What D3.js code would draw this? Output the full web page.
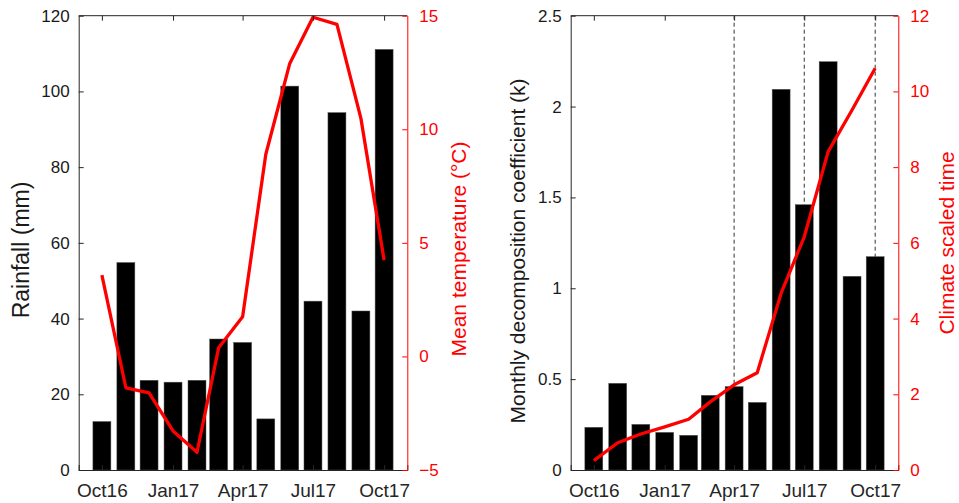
<!DOCTYPE html>
<html>
<head>
<meta charset="utf-8">
<script src="https://cdn.jsdelivr.net/npm/d3@7"></script>
<style>
body{margin:0;background:#fff;}
text{font-family:"Liberation Sans",Arial,sans-serif;}
</style>
</head>
<body>
<script>
// monthly data, Oct 2016 - Oct 2017
var months=["2016-10-01","2016-11-01","2016-12-01","2017-01-01","2017-02-01","2017-03-01","2017-04-01",
  "2017-05-01","2017-06-01","2017-07-01","2017-08-01","2017-09-01","2017-10-01"];
var rainfall=[12.8,54.8,23.7,23.2,23.7,34.6,33.7,13.5,101.4,44.6,94.4,42.0,111.1];
var meanTemp=[3.58,-1.38,-1.6,-3.28,-4.22,0.38,1.75,8.9,12.9,14.93,14.62,10.48,4.24];
var kCoef=[0.235,0.477,0.251,0.207,0.191,0.411,0.459,0.372,2.095,1.46,2.247,1.066,1.174];
var climTime=[0.246,0.72,0.95,1.14,1.34,1.80,2.25,2.57,4.67,6.16,8.41,9.51,10.61];
var tickDates=["2016-10-01","2017-01-01","2017-04-01","2017-07-01","2017-10-01"];
var dashDates=["2017-04-01","2017-07-01","2017-10-01"];

var parse=d3.timeParse("%Y-%m-%d");
var fmt=d3.timeFormat("%b%y");
var W=959,H=503;
var top_=15.7,bottom=470;

var svg=d3.select("body").append("svg").attr("width",W).attr("height",H);

function drawPanel(o){
  var g=svg.append("g");
  var x=d3.scaleTime().domain([parse("2016-09-01"),parse("2017-10-31")]).range([o.left,o.right]);
  var yL=d3.scaleLinear().domain(o.yLdom).range([bottom,top_]);
  var yR=d3.scaleLinear().domain(o.yRdom).range([bottom,top_]);
  var bw=0.75*(x(parse("2016-11-01"))-x(parse("2016-10-01")));

  // dashed lines
  g.selectAll(".dash").data(o.dashes||[]).enter().append("line")
    .attr("x1",d=>x(parse(d))).attr("x2",d=>x(parse(d)))
    .attr("y1",top_).attr("y2",bottom)
    .attr("stroke","#333").attr("stroke-width",1).attr("stroke-dasharray","4,3");

  // bars
  g.selectAll(".bar").data(o.bars).enter().append("rect")
    .attr("x",(d,i)=>x(parse(months[i]))-bw/2)
    .attr("y",d=>yL(d))
    .attr("width",bw)
    .attr("height",d=>bottom-yL(d))
    .attr("fill","#000").attr("stroke","#555").attr("stroke-width",0.5);

  // red line
  var line=d3.line().x((d,i)=>x(parse(months[i]))).y(d=>yR(d));
  g.append("path").datum(o.line).attr("d",line)
    .attr("fill","none").attr("stroke","#ff0000").attr("stroke-width",3.3)
    .attr("stroke-linejoin","round");

  // top border
  g.append("line").attr("x1",o.left).attr("x2",o.right).attr("y1",top_).attr("y2",top_)
    .attr("stroke","#262626").attr("stroke-width",1);

  // x axis
  var xAx=g.append("g").attr("transform","translate(0,"+bottom+")")
    .call(d3.axisBottom(x).tickValues(tickDates.map(parse)).tickFormat(fmt).tickSize(-5).tickPadding(14));
  xAx.select(".domain").attr("stroke","#262626");
  xAx.selectAll(".tick line").attr("stroke","#262626");
  xAx.selectAll("text").attr("font-size",19).attr("fill","#262626");
  var xTop=g.append("g").attr("transform","translate(0,"+top_+")")
    .call(d3.axisTop(x).tickValues(tickDates.map(parse)).tickFormat("").tickSize(-5));
  xTop.select(".domain").remove();
  xTop.selectAll(".tick line").attr("stroke","#262626");

  // left axis
  var lAx=g.append("g").attr("transform","translate("+o.left+",0)")
    .call(d3.axisLeft(yL).tickValues(o.yLticks).tickFormat(d3.format("~g")).tickSize(-5).tickPadding(9).tickSizeOuter(0));
  lAx.select(".domain").attr("stroke","#262626");
  lAx.selectAll(".tick line").attr("stroke","#262626");
  lAx.selectAll("text").attr("font-size",17).attr("fill","#1a1a1a");

  // right axis
  var rAx=g.append("g").attr("transform","translate("+o.right+",0)")
    .call(d3.axisRight(yR).tickValues(o.yRticks).tickFormat(d3.format("~g")).tickSize(-5).tickPadding(12).tickSizeOuter(0));
  rAx.select(".domain").attr("stroke","#ff0000");
  rAx.selectAll(".tick line").attr("stroke","#ff0000");
  rAx.selectAll("text").attr("font-size",17).attr("fill","#ff0000");

  // axis titles
  g.append("text").attr("transform","translate("+o.lLabelX+","+o.lLabelY+") rotate(-90)")
    .attr("text-anchor","middle").attr("dy","0.35em").attr("font-size",o.lLabelSize||21).attr("fill","#1a1a1a")
    .text(o.lLabel);
  g.append("text").attr("transform","translate("+o.rLabelX+","+o.rLabelY+") rotate(-90)")
    .attr("text-anchor","middle").attr("dy","0.35em").attr("font-size",21).attr("fill","#ff0000")
    .text(o.rLabel);
}

drawPanel({
  left:78.7,right:407.3,
  yLdom:[0,120],yRdom:[-5,15],
  yLticks:[0,20,40,60,80,100,120],yRticks:[-5,0,5,10,15],
  bars:rainfall,line:meanTemp,
  lLabel:"Rainfall (mm)",lLabelX:21,lLabelY:250,lLabelSize:23,
  rLabel:"Mean temperature (°C)",rLabelX:459,rLabelY:249
});

drawPanel({
  left:570.7,right:898.3,
  yLdom:[0,2.5],yRdom:[0,12],
  yLticks:[0,0.5,1,1.5,2,2.5],yRticks:[0,2,4,6,8,10,12],
  bars:kCoef,line:climTime,dashes:dashDates,
  lLabel:"Monthly decomposition coefficient (k)",lLabelX:518,lLabelY:251,
  rLabel:"Climate scaled time",rLabelX:947,rLabelY:243
});
</script>
</body>
</html>
